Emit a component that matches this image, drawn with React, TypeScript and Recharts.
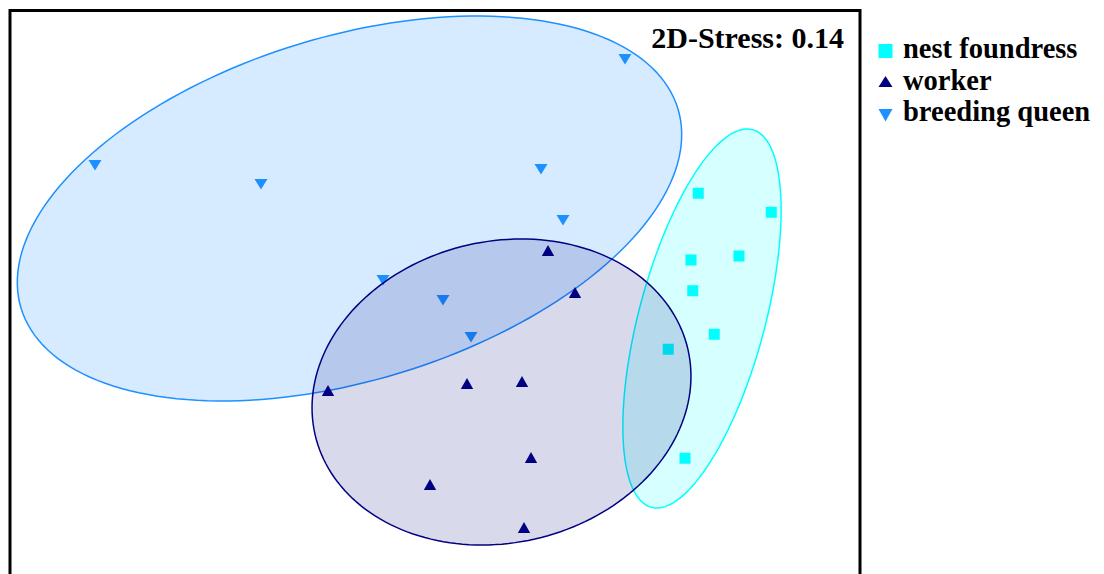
// NMDS ordination of caste groups with group ellipses (2D stress 0.14).
import { ScatterChart, Scatter, XAxis, YAxis, ReferenceArea, Legend, Polygon } from "recharts";

const FONT = '"Liberation Serif", "Times New Roman", serif';

// NMDS1 / NMDS2 coordinates
const foundress: [number, number][] = [
  [1.053, 0.369], [1.345, 0.293], [1.024, 0.102], [1.216, 0.118],
  [1.031, -0.021], [1.117, -0.195], [0.933, -0.255], [1.0, -0.691],
];
const worker: [number, number][] = [
  [0.452, 0.138], [0.56, -0.03], [-0.428, -0.422], [0.128, -0.394],
  [0.348, -0.386], [0.384, -0.69], [-0.02, -0.798], [0.356, -0.97],
];
const queen: [number, number][] = [
  [0.76, 0.906], [-1.36, 0.482], [-0.696, 0.406], [0.424, 0.466],
  [0.512, 0.262], [-0.208, 0.022], [0.032, -0.058], [0.144, -0.206],
];

// ellipse: centre x, centre y, semi-major, semi-minor, angle (deg)
const foundressEllipse = [1.068, -0.132, 0.782, 0.252, 75];
const workerEllipse = [0.266, -0.426, 0.765, 0.603, 12.8];
const queenEllipse = [-0.342, 0.308, 1.373, 0.688, 16.9];

const legendItems = [
  { name: "nest foundress", color: "#00FFFF", shape: "square" },
  { name: "worker", color: "#000080", shape: "up" },
  { name: "breeding queen", color: "#1E90FF", shape: "down" },
];
const stressLabel = "2D-Stress: 0.14";

const toPts = (arr: [number, number][]) => arr.map(([x, y]) => ({ x, y }));

function outline([cx, cy, a, b, deg]: number[]) {
  const t = (deg * Math.PI) / 180;
  const pts = [];
  for (let i = 0; i < 180; i++) {
    const u = (i / 180) * Math.PI * 2;
    const ex = a * Math.cos(u), ey = b * Math.sin(u);
    pts.push({ x: cx + ex * Math.cos(t) - ey * Math.sin(t), y: cy + ex * Math.sin(t) + ey * Math.cos(t) });
  }
  return pts;
}

const blank = () => <g />;
const ellipseLine = (fill: string, stroke: string) => (p: any) =>
  <Polygon points={p.points} fill={fill} stroke={stroke} strokeWidth={1.5} />;

const Square = ({ cx, cy }: any) => <rect x={cx - 5.5} y={cy - 5.5} width={11} height={11} fill="#00FFFF" />;
const Up = ({ cx, cy }: any) => (
  <polygon points={`${cx},${cy - 6} ${cx + 6.2},${cy + 5} ${cx - 6.2},${cy + 5}`} fill="#000080" />
);
const Down = ({ cx, cy }: any) => (
  <polygon points={`${cx - 6.5},${cy - 5} ${cx + 6.5},${cy - 5} ${cx},${cy + 5.5}`} fill="#1E90FF" />
);

const ROW = 31.6;
const iconTop: Record<string, number> = { square: 11.4, up: 9.8, down: 11.4 };

function LegendBox() {
  return (
    <div style={{ fontFamily: FONT, fontWeight: "bold", fontSize: 28.5, color: "#000" }}>
      {legendItems.map((it) => (
        <div key={it.name} style={{ position: "relative", height: ROW, whiteSpace: "nowrap" }}>
          <svg width={15} height={14} style={{ position: "absolute", left: 0, top: iconTop[it.shape] }}>
            {it.shape === "square" && <rect x={0.5} y={0} width={14} height={14} fill={it.color} />}
            {it.shape === "up" && <polygon points="7.5,2 14.5,13 0.5,13" fill={it.color} />}
            {it.shape === "down" && <polygon points="0.5,1 14.5,1 7.5,13.5" fill={it.color} />}
          </svg>
          <span style={{ position: "absolute", left: 25, top: 0, display: "block", height: ROW, lineHeight: `${ROW}px` }}>
            {it.name}
          </span>
        </div>
      ))}
    </div>
  );
}

export default function App() {
  return (
    <div style={{ width: 1096, height: 566, overflow: "hidden", fontFamily: FONT }}>
      <ScatterChart width={1096} height={600} margin={{ top: 2.5, right: 244, bottom: 22.5, left: 2 }}>
        <XAxis type="number" dataKey="x" domain={[-1.7, 1.7]} allowDataOverflow hide />
        <YAxis type="number" dataKey="y" domain={[-1.2, 1.1]} allowDataOverflow hide />
        <Scatter data={toPts(queen)} shape={Down} legendType="none" isAnimationActive={false} />
        <Scatter data={toPts(foundress)} shape={Square} legendType="none" isAnimationActive={false} />
        <Scatter data={outline(queenEllipse)} shape={blank} line={ellipseLine("rgba(30,144,255,0.18)", "#1E90FF")}
          lineType="joint" legendType="none" isAnimationActive={false} />
        <Scatter data={outline(foundressEllipse)} shape={blank} line={ellipseLine("rgba(0,255,255,0.16)", "#00FFFF")}
          lineType="joint" legendType="none" isAnimationActive={false} />
        <Scatter data={outline(workerEllipse)} shape={blank} line={ellipseLine("rgba(0,0,128,0.15)", "#000080")}
          lineType="joint" legendType="none" isAnimationActive={false} />
        <Scatter data={toPts(worker)} shape={Up} legendType="none" isAnimationActive={false} />
        <ReferenceArea x1={-1.7} x2={1.7} y1={-1.2} y2={1.1} fill="none" stroke="#000" strokeWidth={3}
          fillOpacity={0} ifOverflow="visible"
          label={{ value: stressLabel, position: "insideTopRight", offset: 16, fill: "#000",
            fontSize: 30, fontWeight: "bold", fontFamily: FONT }} />
        <Legend content={() => <LegendBox />} layout="horizontal" verticalAlign="middle" align="center"
          wrapperStyle={{ left: 870, top: 25, width: 226, height: 96 }} />
      </ScatterChart>
    </div>
  );
}
